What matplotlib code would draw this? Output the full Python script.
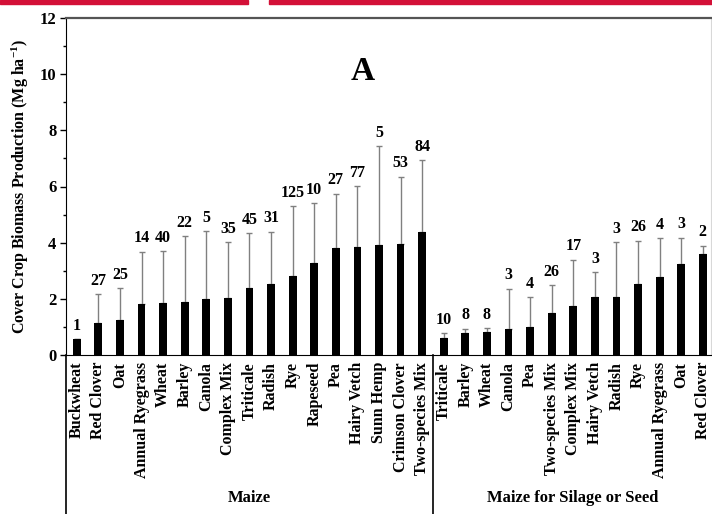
import matplotlib
matplotlib.use("Agg")
import matplotlib.pyplot as plt
import matplotlib.transforms as mtransforms
from matplotlib.patches import Rectangle
from matplotlib.ticker import MultipleLocator
import numpy as np

plt.rcParams["font.family"] = ["Liberation Serif", "DejaVu Serif"]
plt.rcParams["font.weight"] = "bold"
plt.rcParams["mathtext.fontset"] = "custom"
plt.rcParams["mathtext.rm"] = "Liberation Serif:bold"
plt.rcParams["mathtext.default"] = "rm"

# Maize (grain)
maize_crops = ["Buckwheat", "Red Clover", "Oat", "Annual Ryegrass", "Wheat", "Barley",
               "Canola", "Complex Mix", "Triticale", "Radish", "Rye", "Rapeseed", "Pea",
               "Hairy Vetch", "Sunn Hemp", "Crimson Clover", "Two-species Mix"]
maize_mean = [0.56, 1.15, 1.25, 1.81, 1.84, 1.89, 2.00, 2.04, 2.40, 2.52, 2.81, 3.26,
              3.82, 3.84, 3.90, 3.95, 4.37]
maize_upper = [0.56, 2.17, 2.37, 3.67, 3.69, 4.22, 4.41, 4.01, 4.34, 4.39, 5.30, 5.41,
               5.75, 6.01, 7.43, 6.35, 6.94]
maize_n = [1, 27, 25, 14, 40, 22, 5, 35, 45, 31, 125, 10, 27, 77, 5, 53, 84]

# Maize for silage or seed
silage_crops = ["Triticale", "Barley", "Wheat", "Canola", "Pea", "Two-species Mix",
                "Complex Mix", "Hairy Vetch", "Radish", "Rye", "Annual Ryegrass", "Oat",
                "Red Clover"]
silage_mean = [0.62, 0.77, 0.83, 0.94, 0.98, 1.48, 1.76, 2.06, 2.08, 2.54, 2.79, 3.25, 3.58]
silage_upper = [0.78, 0.93, 0.95, 2.35, 2.06, 2.49, 3.39, 2.95, 4.02, 4.07, 4.16, 4.17, 3.88]
silage_n = [10, 8, 8, 3, 4, 26, 17, 3, 3, 26, 4, 3, 2]

group_labels = ["Maize", "Maize for Silage or Seed"]

labels = maize_crops + silage_crops
means = np.array(maize_mean + silage_mean)
uppers = np.array(maize_upper + silage_upper)
counts = maize_n + silage_n
x = np.arange(len(labels))

fig = plt.figure(figsize=(7.12, 5.14), dpi=100)
ax = fig.add_axes([66 / 712, 159 / 514, 645 / 712, 337 / 514])

# thin red page rule across the top
fig.patches.append(Rectangle((0, 1 - 3.5 / 514), 248 / 712, 3.5 / 514,
                             transform=fig.transFigure, color="#d31037", zorder=0))
fig.patches.append(Rectangle((269 / 712, 1 - 3.5 / 514), 1 - 269 / 712, 3.5 / 514,
                             transform=fig.transFigure, color="#d31037", zorder=0))

ax.errorbar(x, means, yerr=[np.zeros_like(means), uppers - means], fmt="none",
            ecolor="#808080", elinewidth=1.0, capsize=2.4, capthick=1.0, zorder=1)
ax.bar(x, means, width=0.36, color="black", zorder=2)

for xi, top, n in zip(x, uppers, counts):
    ax.annotate(str(n), (xi, top), xytext=(0, 4), textcoords="offset points",
                ha="center", va="bottom", fontsize=11.5, fontweight="bold")

ax.set_xlim(-0.5, len(labels) - 0.62)
ax.set_ylim(0, 12)
ax.yaxis.set_major_locator(MultipleLocator(2))
ax.yaxis.set_minor_locator(MultipleLocator(1))
ax.tick_params(axis="y", which="major", direction="out", length=4, width=1,
               labelsize=12, pad=3)
ax.tick_params(axis="y", which="minor", direction="out", length=2.5, width=1)
for lab in ax.get_yticklabels():
    lab.set_fontweight("bold")

ax.set_xticks(x)
ax.set_xticklabels(labels, rotation=90, fontsize=11.5, fontweight="bold")
ax.tick_params(axis="x", length=0, pad=5)

ax.set_ylabel("Cover Crop Biomass Production (Mg ha$^{-1}$)", fontsize=11.5,
              fontweight="bold", labelpad=6)

ax.spines["left"].set_color("black")
ax.spines["bottom"].set_color("black")
ax.spines["top"].set_color("#555555")
ax.spines["top"].set_linewidth(1.6)
ax.spines["right"].set_color("#d8d8d8")

# category group dividers below the axis
trans = mtransforms.blended_transform_factory(ax.transData, ax.transAxes)
for xd in (-0.5, len(maize_crops) - 0.5):
    ax.plot([xd, xd], [0, -0.48], transform=trans, color="black", lw=1.2,
            clip_on=False)

ax.text((len(maize_crops) - 1) / 2, -0.425, group_labels[0], transform=trans,
        ha="center", va="center", fontsize=12, fontweight="bold")
ax.text(len(maize_crops) - 0.5 + (len(silage_crops) - 0.1) / 2, -0.425, group_labels[1],
        transform=trans, ha="center", va="center", fontsize=12, fontweight="bold")

fig.text(363 / 712, 1 - 72 / 514, "A", ha="center", va="center", fontsize=24,
         fontweight="bold")

fig.savefig("out.png", dpi=100)
